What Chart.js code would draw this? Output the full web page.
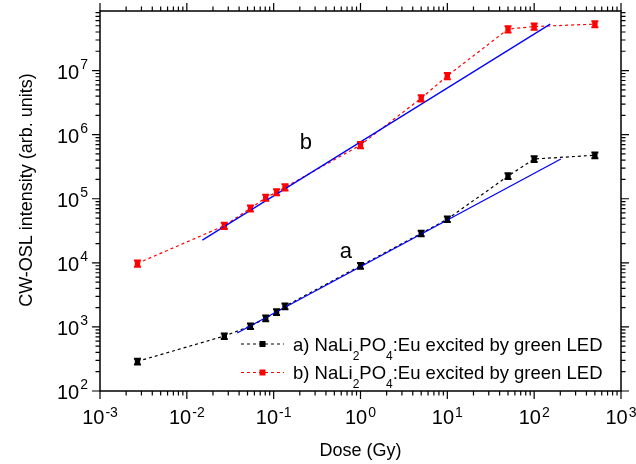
<!DOCTYPE html>
<html>
<head>
<meta charset="utf-8">
<script src="https://cdn.jsdelivr.net/npm/chart.js@4.4.0/dist/chart.umd.min.js"></script>
<style>
  html, body { margin: 0; padding: 0; background: #fff; }
  canvas { display: block; }
</style>
</head>
<body>
<canvas id="oslChart" width="636" height="464"></canvas>
<script>
// dose values (Gy), same for both samples
const doses = [0.0027, 0.027, 0.054, 0.081, 0.108, 0.135, 1, 5, 10, 50, 100, 500]
// a) sample
const intensityA = [290, 720, 1030, 1370, 1710, 2100, 9000, 28800, 48000, 226000, 417000, 477000]
const errorA = [30, 70, 100, 140, 170, 210, 900, 2900, 4800, 23000, 42000, 48000]
// b) sample
const intensityB = [9800, 37900, 70800, 104000, 127000, 151000, 690000, 3700000, 8260000, 44300000, 48700000, 53000000]
const errorB = [1100, 4200, 7800, 11000, 14000, 17000, 76000, 410000, 910000, 4900000, 5400000, 5800000]
// linear fits (blue)
const fitAx = [0.038, 203]
const fitAy = [805, 417000]
const fitBx = [0.0151, 153]
const fitBy = [22600, 53000000]
// axis decades
const xDecades = [-3, -2, -1, 0, 1, 2, 3]
const yDecades = [2, 3, 4, 5, 6, 7]

const legendLabels = ['a)', 'b)']
const FONT = '"Liberation Sans", Arial, sans-serif'

function pts(xs, ys) {
    return xs.map((x, i) => ({ x: x, y: ys[i] }))
}

// draws "10" with a superscript exponent, align = 'center' or 'right'
function drawPow(ctx, exp, x, y, align, supDy) {
    ctx.font = '20px ' + FONT
    let base = ctx.measureText('10').width
    ctx.font = '14px ' + FONT
    let sup = ctx.measureText(String(exp)).width
    let total = base + sup + 1
    let x0 = align === 'center' ? x - total / 2 : x - total
    ctx.textAlign = 'left'
    ctx.textBaseline = 'alphabetic'
    ctx.font = '20px ' + FONT
    ctx.fillText('10', x0, y)
    ctx.font = '14px ' + FONT
    ctx.fillText(String(exp), x0 + base + 1, y - supDy)
}

const errorBars = {
    id: 'errorBars',
    afterDatasetsDraw(chart) {
        const ctx = chart.ctx
        const xs = chart.scales.x, ys = chart.scales.y
        const sets = [[intensityA, errorA, '#000'], [intensityB, errorB, '#ff0000']]
        ctx.save()
        sets.forEach(s => {
            ctx.strokeStyle = s[2]
            ctx.lineWidth = 2
            doses.forEach((d, i) => {
                let px = xs.getPixelForValue(d)
                let top = ys.getPixelForValue(s[0][i] + s[1][i])
                let bot = ys.getPixelForValue(s[0][i] - s[1][i])
                ctx.beginPath()
                ctx.moveTo(px, top); ctx.lineTo(px, bot)
                ctx.moveTo(px - 3.5, top); ctx.lineTo(px + 3.5, top)
                ctx.moveTo(px - 3.5, bot); ctx.lineTo(px + 3.5, bot)
                ctx.stroke()
            })
        })
        ctx.restore()
    }
}

const frame = {
    id: 'frame',
    afterDraw(chart) {
        const ctx = chart.ctx
        const a = chart.chartArea
        const xs = chart.scales.x, ys = chart.scales.y
        ctx.save()
        ctx.strokeStyle = '#000'
        ctx.fillStyle = '#000'
        ctx.lineWidth = 1.5
        ctx.strokeRect(a.left, a.top, a.right - a.left, a.bottom - a.top)

        ctx.lineWidth = 1.2
        ctx.beginPath()
        // x ticks, bottom and top, outward
        for (let d = -3; d <= 3; d++) {
            for (let m = 1; m <= 9; m++) {
                if (d === 3 && m > 1) break
                let px = xs.getPixelForValue(m * Math.pow(10, d))
                let len = m === 1 ? 8 : 4.5
                ctx.moveTo(px, a.bottom); ctx.lineTo(px, a.bottom + len)
                ctx.moveTo(px, a.top); ctx.lineTo(px, a.top - len)
            }
        }
        // y ticks, left and right, outward
        for (let d = 2; d <= 7; d++) {
            for (let m = 1; m <= 9; m++) {
                let v = m * Math.pow(10, d)
                if (v > ys.max) break
                let py = ys.getPixelForValue(v)
                let len = m === 1 ? 8 : 4.5
                ctx.moveTo(a.left, py); ctx.lineTo(a.left - len, py)
                ctx.moveTo(a.right, py); ctx.lineTo(a.right + len, py)
            }
        }
        ctx.stroke()

        // tick labels
        xDecades.forEach(d => drawPow(ctx, d, xs.getPixelForValue(Math.pow(10, d)), 424, 'center', 7))
        yDecades.forEach(d => drawPow(ctx, d, 88, ys.getPixelForValue(Math.pow(10, d)) + 8, 'right', 10))

        // axis titles
        ctx.font = '18px ' + FONT
        ctx.textAlign = 'center'
        ctx.textBaseline = 'alphabetic'
        ctx.fillText('Dose (Gy)', (a.left + a.right) / 2, 456)
        ctx.save()
        ctx.translate(32, 190)
        ctx.rotate(-Math.PI / 2)
        ctx.fillText('CW-OSL intensity (arb. units)', 0, 0)
        ctx.restore()

        // curve labels
        ctx.font = '22px ' + FONT
        ctx.textBaseline = 'middle'
        ctx.fillText('a', xs.getPixelForValue(0.68), ys.getPixelForValue(14700))
        ctx.fillText('b', xs.getPixelForValue(0.235), ys.getPixelForValue(735000))

        // legend
        const rows = [[344, '#000'], [372.5, '#ff0000']]
        rows.forEach((r, i) => {
            let y = r[0]
            ctx.strokeStyle = r[1]
            ctx.fillStyle = r[1]
            ctx.lineWidth = 1.2
            ctx.setLineDash([3, 3])
            ctx.beginPath()
            ctx.moveTo(241, y); ctx.lineTo(284, y)
            ctx.stroke()
            ctx.setLineDash([])
            ctx.fillRect(259.5, y - 3, 6, 6)

            ctx.fillStyle = '#000'
            ctx.textAlign = 'left'
            ctx.textBaseline = 'alphabetic'
            let x = 293, base = y + 6.5
            const parts = [[legendLabels[i] + ' NaLi', 0], ['2', 1], ['PO', 0], ['4', 1], [':Eu excited by green LED', 0]]
            parts.forEach(p => {
                ctx.font = (p[1] ? '12px ' : '18.5px ') + FONT
                ctx.fillText(p[0], x, p[1] ? base + 9 : base)
                x += ctx.measureText(p[0]).width
            })
        })
        ctx.restore()
    }
}

const ctx = document.getElementById('oslChart').getContext('2d')
const oslChart = new Chart(ctx, {
    type: 'scatter',
    data: {
        datasets: [
            {
                label: 'fit a',
                data: pts(fitAx, fitAy),
                showLine: true,
                borderColor: '#0000ff',
                borderWidth: 1.3,
                pointRadius: 0
            },
            {
                label: 'fit b',
                data: pts(fitBx, fitBy),
                showLine: true,
                borderColor: '#0000ff',
                borderWidth: 1.3,
                pointRadius: 0
            },
            {
                label: 'a) NaLi2PO4:Eu excited by green LED',
                data: pts(doses, intensityA),
                showLine: true,
                borderColor: '#000',
                backgroundColor: '#000',
                borderWidth: 1.2,
                borderDash: [3, 3],
                pointStyle: 'rect',
                pointRadius: 3.8,
                pointBorderWidth: 0
            },
            {
                label: 'b) NaLi2PO4:Eu excited by green LED',
                data: pts(doses, intensityB),
                showLine: true,
                borderColor: '#ff0000',
                backgroundColor: '#ff0000',
                borderWidth: 1.2,
                borderDash: [3, 3],
                pointStyle: 'rect',
                pointRadius: 3.8,
                pointBorderWidth: 0
            }
        ]
    },
    options: {
        responsive: false,
        animation: false,
        layout: { padding: { left: 100, right: 15, top: 11, bottom: 73 } },
        scales: {
            x: { type: 'logarithmic', min: 0.001, max: 1000, display: false },
            y: { type: 'logarithmic', min: 100, max: 85000000, display: false }
        },
        plugins: {
            legend: { display: false },
            tooltip: { enabled: false }
        }
    },
    plugins: [errorBars, frame]
})
</script>
</body>
</html>
